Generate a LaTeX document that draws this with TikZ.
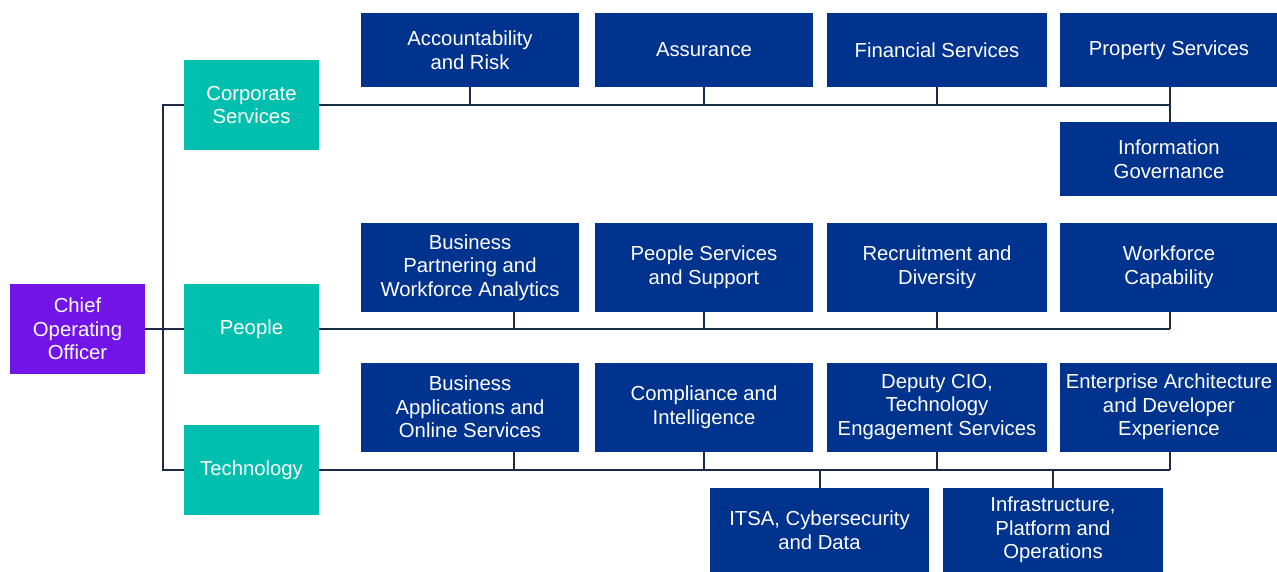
\documentclass[tikz,border=0pt]{standalone}
\usepackage{fontspec}
\setmainfont{Liberation Sans}
\definecolor{navybox}{HTML}{00338D}
\definecolor{tealbox}{HTML}{00BFAE}
\definecolor{purplebox}{HTML}{7214E8}
\definecolor{linecol}{HTML}{1C2B45}
\begin{document}
\begin{tikzpicture}[x=1pt,y=-1pt,
  box/.style={rectangle, inner sep=0pt, align=center, text=white,
    font=\fontsize{20.3}{23.5}\selectfont},
  bluebox/.style={box, fill=navybox, minimum width=218pt, minimum height=74pt},
  bluetall/.style={box, fill=navybox, minimum width=218pt, minimum height=89pt},
  tealnode/.style={box, fill=tealbox, minimum width=135pt, minimum height=90pt},
  conn/.style={draw=linecol, line width=2pt}]
\useasboundingbox (0,0) rectangle (1277,572);

% level 1
\node[box, fill=purplebox, minimum width=135pt, minimum height=90pt] (coo) at (77.5,329) {Chief\\Operating\\Officer};
% level 2
\node[tealnode] (corp) at (251.5,105) {Corporate\\Services};
\node[tealnode] (people) at (251.5,329) {People};
\node[tealnode] (tech) at (251.5,470) {Technology};

% corporate services row
\node[bluebox] (acc) at (470,50) {Accountability\\and Risk};
\node[bluebox] (ass) at (704,50) {Assurance};
\node[bluebox, minimum width=220pt] (fin) at (937,50) {Financial Services};
\node[bluebox] (prop) at (1169,50) {Property Services};
\node[bluebox] (infog) at (1169,159) {Information\\Governance};

% people row
\node[bluetall] (bpwa) at (470,267.5) {Business\\Partnering and\\Workforce Analytics};
\node[bluetall] (pss) at (704,267.5) {People Services\\and Support};
\node[bluetall, minimum width=220pt] (rd) at (937,267.5) {Recruitment and\\Diversity};
\node[bluetall] (wfc) at (1169,267.5) {Workforce\\Capability};

% technology row
\node[bluetall] (baos) at (470,407) {Business\\Applications and\\Online Services};
\node[bluetall] (ci) at (704,407) {Compliance and\\Intelligence};
\node[bluetall, minimum width=220pt] (dcio) at (937,407) {Deputy CIO,\\Technology\\Engagement Services};
\node[bluetall] (eade) at (1169,407) {Enterprise Architecture\\and Developer\\Experience};
\node[box, fill=navybox, minimum width=219pt, minimum height=84pt] (itsa) at (819.5,530) {ITSA, Cybersecurity\\and Data};
\node[box, fill=navybox, minimum width=220pt, minimum height=84pt] (ipo) at (1053,530) {Infrastructure,\\Platform and\\Operations};

% spine
\coordinate (spine) at (163,329);
\draw[conn] (coo.east) -- (people.west);
\draw[conn] (corp.west) -| (spine) |- (tech.west);

% corporate bus
\coordinate (cbus) at (1170,105);
\draw[conn] (corp.east) -- (cbus);
\draw[conn] (acc.south) -- (acc.south |- cbus);
\draw[conn] (ass.south) -- (ass.south |- cbus);
\draw[conn] (fin.south) -- (fin.south |- cbus);
\draw[conn] ([xshift=1pt]prop.south) -- ([xshift=1pt]infog.north);

% people bus
\coordinate (pbus) at (1170,329);
\draw[conn] (people.east) -- (pbus);
\draw[conn] ([xshift=44pt]bpwa.south) -- ([xshift=44pt]bpwa.south |- pbus);
\draw[conn] (pss.south) -- (pss.south |- pbus);
\draw[conn] (rd.south) -- (rd.south |- pbus);
\draw[conn] ([xshift=1pt]wfc.south) -- (pbus);

% technology bus
\coordinate (tbus) at (1170,470);
\draw[conn] (tech.east) -- (tbus);
\draw[conn] ([xshift=44pt]baos.south) -- ([xshift=44pt]baos.south |- tbus);
\draw[conn] (ci.south) -- (ci.south |- tbus);
\draw[conn] (dcio.south) -- (dcio.south |- tbus);
\draw[conn] ([xshift=1pt]eade.south) -- (tbus);
\draw[conn] (itsa.north) -- (itsa.north |- tbus);
\draw[conn] (ipo.north) -- (ipo.north |- tbus);
\end{tikzpicture}
\end{document}
